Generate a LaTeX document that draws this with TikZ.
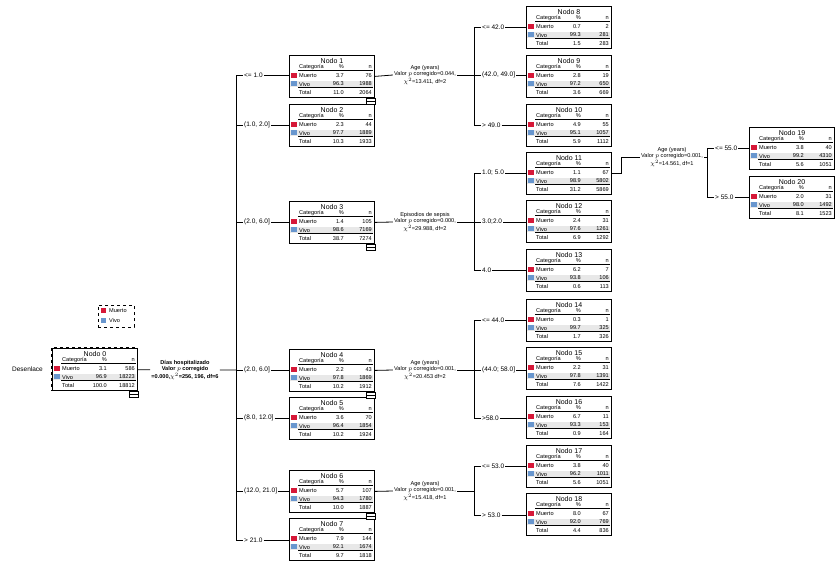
\documentclass[tikz,border=0pt]{standalone}
\usepackage{fontspec}
\setmainfont{Liberation Sans}
\usetikzlibrary{positioning}
\definecolor{muerto}{RGB}{214,24,56}
\definecolor{vivo}{RGB}{104,150,206}
\definecolor{vivobg}{RGB}{232,232,232}
\tikzset{
  caja/.style={draw, thick, minimum width=85pt, minimum height=42pt, inner sep=0pt},
  txt/.style={font=\fontsize{5.6}{6}\selectfont, inner sep=0pt},
  ttl/.style={font=\fontsize{7}{7}\selectfont, inner sep=0pt},
  split/.style={font=\fontsize{5.6}{6.3}\selectfont, align=center, inner sep=1pt},
  lbl/.style={font=\fontsize{6.5}{7}\selectfont, inner sep=1pt},
  rama/.style={thick}
}
% #1 name, #2 top-left, #3 number, #4-#9 values
\newcommand\arbolnodo[9]{%
\begin{scope}[shift={#2}]
\fill[vivobg] (1,26) rectangle (84,32);
\node[caja, anchor=north west] (#1) at (0,0) {};
\node[ttl] at (43,5.5) {Nodo #3};
\node[txt, anchor=west] at (10,12) {Categoría};
\node[txt, anchor=east] at (55,12) {\%};
\node[txt, anchor=east] at (83,12) {n};
\draw (9,15) -- (84,15);
\fill[muerto] (2,18) rectangle (8,23);
\node[txt, anchor=west] at (10,21) {Muerto};
\node[txt, anchor=east] at (55,21) {#4};
\node[txt, anchor=east] at (83,21) {#5};
\fill[vivo] (2,26) rectangle (8,31);
\node[txt, anchor=west] at (10,29) {Vivo};
\node[txt, anchor=east] at (55,29) {#6};
\node[txt, anchor=east] at (83,29) {#7};
\draw (9,32.5) -- (84,32.5);
\node[txt, anchor=west] at (10,37.5) {Total};
\node[txt, anchor=east] at (55,37.5) {#8};
\node[txt, anchor=east] at (83,37.5) {#9};
\end{scope}}
\newcommand\plegar[1]{\draw[fill=white] ([xshift=-9pt]#1.south east) rectangle ++(9pt,-6pt); \draw ([xshift=-9pt,yshift=-3pt]#1.south east) -- ++(9pt,0);}

\begin{document}
\begin{tikzpicture}[x=1pt, y=-1pt]
\useasboundingbox (0,0) rectangle (836,573);

% nodos
\arbolnodo{n0}{(52,348)}{0}{3.1}{586}{96.9}{18223}{100.0}{18812}
\draw[dashed, very thick] (n0.north west) rectangle (n0.south east);
\arbolnodo{n1}{(289,55)}{1}{3.7}{76}{96.3}{1988}{11.0}{2064}
\arbolnodo{n2}{(289,104)}{2}{2.3}{44}{97.7}{1889}{10.3}{1933}
\arbolnodo{n3}{(289,201)}{3}{1.4}{105}{98.6}{7169}{38.7}{7274}
\arbolnodo{n4}{(289,349)}{4}{2.2}{43}{97.8}{1869}{10.2}{1912}
\arbolnodo{n5}{(289,397)}{5}{3.6}{70}{96.4}{1854}{10.2}{1924}
\arbolnodo{n6}{(289,470)}{6}{5.7}{107}{94.3}{1780}{10.0}{1887}
\arbolnodo{n7}{(289,518)}{7}{7.9}{144}{92.1}{1674}{9.7}{1818}
\arbolnodo{n8}{(526,6)}{8}{0.7}{2}{99.3}{281}{1.5}{283}
\arbolnodo{n9}{(526,55)}{9}{2.8}{19}{97.2}{650}{3.6}{669}
\arbolnodo{n10}{(526,104)}{10}{4.9}{55}{95.1}{1057}{5.9}{1112}
\arbolnodo{n11}{(526,152)}{11}{1.1}{67}{98.9}{5802}{31.2}{5869}
\arbolnodo{n12}{(526,200)}{12}{2.4}{31}{97.6}{1261}{6.9}{1292}
\arbolnodo{n13}{(526,249)}{13}{6.2}{7}{93.8}{106}{0.6}{113}
\arbolnodo{n14}{(526,299)}{14}{0.3}{1}{99.7}{325}{1.7}{326}
\arbolnodo{n15}{(526,347)}{15}{2.2}{31}{97.8}{1391}{7.6}{1422}
\arbolnodo{n16}{(526,396)}{16}{6.7}{11}{93.3}{153}{0.9}{164}
\arbolnodo{n17}{(526,445)}{17}{3.8}{40}{96.2}{1011}{5.6}{1051}
\arbolnodo{n18}{(526,493)}{18}{8.0}{67}{92.0}{769}{4.4}{836}
\arbolnodo{n19}{(749,127)}{19}{3.8}{40}{99.2}{4310}{5.6}{1051}
\arbolnodo{n20}{(749,176)}{20}{2.0}{31}{98.0}{1492}{8.1}{1523}
\foreach \n in {n0,n1,n3,n4,n6} {\plegar{\n}}

% leyenda
\node[draw, dashed, thick, minimum width=36pt, minimum height=22pt] (ley) at (116,316) {};
\fill[muerto] (101,308) rectangle (106,313);
\node[txt, anchor=west] at (109,310.5) {Muerto};
\fill[vivo] (101,318) rectangle (106,323);
\node[txt, anchor=west] at (109,320.5) {Vivo};
\node[lbl, anchor=east] (dep) at ([xshift=-8pt]n0.west) {Desenlace};

% division 0
\node[split, font=\bfseries\fontsize{5.6}{6.3}\selectfont] (s0) at (185,370) {Días hospitalizado\\Valor $p$ corregido\\=0.000,$\chi^2$=256, 196, df=6};
\coordinate (bus0) at (236,370);
\draw[rama] (n0) -- (s0) -- (bus0);
\draw[rama] (236,75) -- (236,540);
\foreach \y/\lab/\t in {75/{<= 1.0}/n1, 125/{(1.0, 2.0]}/n2, 222/{(2.0, 6.0]}/n3, 370/{(2.0, 6.0]}/n4, 418/{(8.0, 12.0]}/n5, 491/{(12.0, 21.0]}/n6, 540/{> 21.0}/n7} {
  \node[lbl, right] (l\t) at (243,\y) {\lab};
  \draw[rama] (236,\y) -- (l\t.west);
  \draw[rama] (l\t.east) -- (\t.west |- l\t);
}

% divisiones de segundo nivel
\node[split] (s1) at (425,75) {Age (years)\\Valor $p$ corregido=0.044,\\$\chi^2$=13.411, df=2};
\node[split] (s3) at (425,222) {Episodios de sepsis\\Valor $p$ corregido=0.000,\\$\chi^2$=29.988, df=2};
\node[split] (s4) at (425,370) {Age (years)\\Valor $p$ corregido=0.001,\\$\chi^2$=20.453 df=2};
\node[split] (s6) at (425,491) {Age (years)\\Valor $p$ corregido=0.001,\\$\chi^2$=15.418, df=1};
\node[split] (s11) at (672,157) {Age (years)\\Valor $p$ corregido=0.001,\\$\chi^2$=14.561, df=1};
\foreach \a/\s/\x in {n1/s1/474, n3/s3/474, n4/s4/474, n6/s6/474} {
  \draw[rama] (\a.east) -- (\s.west);
  \draw[rama] (\s.east) -- (\x,0 |- \s);
}
\draw[rama] (n11.east |- 0,173) -- ++(10,0) |- (s11.west);
\draw[rama] (s11.east) -- (707,157);
\draw[rama] (474,27) -- (474,125);
\draw[rama] (474,173) -- (474,270);
\draw[rama] (474,320) -- (474,418);
\draw[rama] (474,466) -- (474,515);
\draw[rama] (707,148) -- (707,197);
\foreach \xb/\y/\lab/\t in {474/27/{<= 42.0}/n8, 474/75/{(42.0, 49.0]}/n9, 474/125/{> 49.0}/n10,
  474/173/{1.0; 5.0}/n11, 474/222/{3.0;2.0}/n12, 474/270/{4.0}/n13,
  474/320/{<= 44.0}/n14, 474/370/{(44.0; 58.0]}/n15, 474/418/{>58.0}/n16,
  474/466/{<= 53.0}/n17, 474/515/{> 53.0}/n18,
  707/148/{<= 55.0}/n19, 707/197/{> 55.0}/n20} {
  \node[lbl, right] (l\t) at (\xb+7,\y) {\lab};
  \draw[rama] (\xb,\y) -- (l\t.west);
  \draw[rama] (l\t.east) -- (\t.west |- l\t);
}
\end{tikzpicture}
\end{document}
